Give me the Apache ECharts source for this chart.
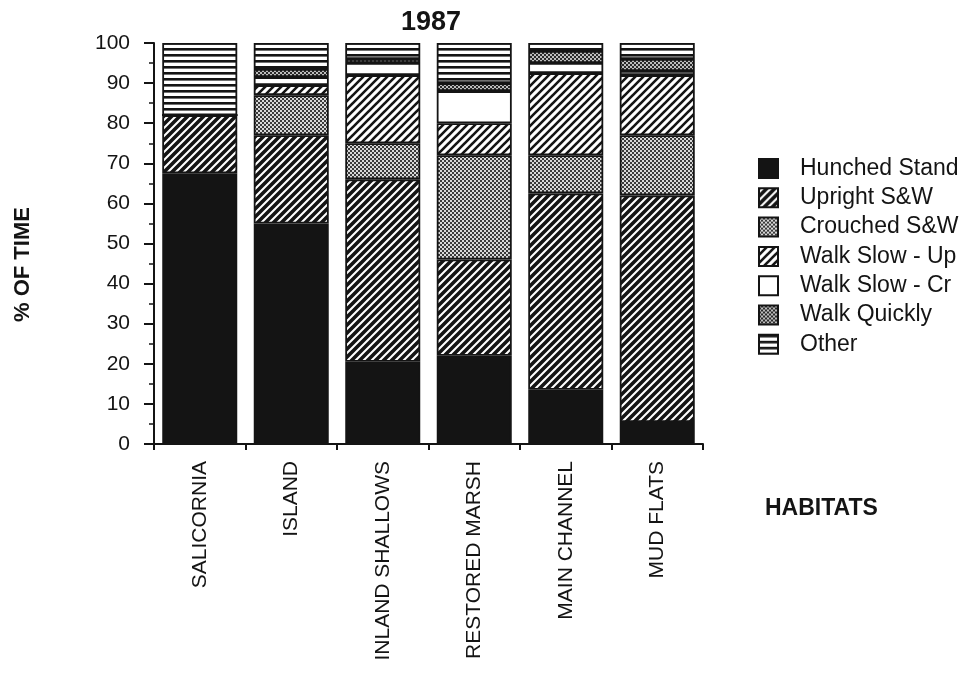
<!DOCTYPE html>
<html>
<head>
<meta charset="utf-8">
<script src="https://cdn.jsdelivr.net/npm/echarts@6/dist/echarts.min.js"></script>
<style>
html,body{margin:0;padding:0;background:#fff;}
#chart{width:969px;height:675px;}
</style>
</head>
<body>
<div id="chart"></div>
<script>
// ---- Data ----
const categories = ['SALICORNIA', 'ISLAND', 'INLAND SHALLOWS', 'RESTORED MARSH', 'MAIN CHANNEL', 'MUD FLATS'];
const seriesNames = ['Hunched Stand', 'Upright S&W', 'Crouched S&W', 'Walk Slow - Up', 'Walk Slow - Cr', 'Walk Quickly', 'Other'];
const hunchedStand = [67.5, 55, 20.5, 22, 13.5, 5.5];
const uprightSW    = [14.5, 22, 45.5, 24, 49, 56.5];
const crouchedSW   = [0, 10, 9, 26, 9.5, 15];
const walkSlowUp   = [0, 2.5, 17, 8, 20.5, 15];
const walkSlowCr   = [0, 2, 3, 8, 2.5, 1];
const walkQuickly  = [0, 2, 1, 2, 3, 3];
const other        = [18, 6.5, 4, 10, 2, 4];
const yTicks = [0, 10, 20, 30, 40, 50, 60, 70, 80, 90, 100];

// ---- Patterns ----
const INK = '#141414';
function hatch(lineW, size) {
  const c = document.createElement('canvas');
  c.width = size; c.height = size;
  const g = c.getContext('2d');
  g.fillStyle = '#fff'; g.fillRect(0, 0, size, size);
  g.strokeStyle = INK; g.lineWidth = lineW; g.lineCap = 'square';
  for (let k = -1; k <= 1; k++) {
    g.beginPath();
    g.moveTo(k * size, size);
    g.lineTo(k * size + size, 0);
    g.stroke();
  }
  return { image: c, repeat: 'repeat' };
}
function hlines(lineW, size) {
  const c = document.createElement('canvas');
  c.width = size; c.height = size;
  const g = c.getContext('2d');
  g.fillStyle = '#fff'; g.fillRect(0, 0, size, size);
  g.fillStyle = INK; g.fillRect(0, 0, size, lineW);
  return { image: c, repeat: 'repeat' };
}
function dots(dark) {
  const c = document.createElement('canvas');
  c.width = 4; c.height = 4;
  const g = c.getContext('2d');
  g.fillStyle = dark ? '#2a2a2a' : '#d8d8d8'; g.fillRect(0, 0, 4, 4);
  g.fillStyle = dark ? '#bdbdbd' : '#3a3a3a';
  g.fillRect(0, 0, 2, 2); g.fillRect(2, 2, 2, 2);
  return { image: c, repeat: 'repeat' };
}

const fills = [
  INK,
  hatch(3.6, 8),
  dots(false),
  hatch(2.6, 8),
  '#ffffff',
  dots(true),
  hlines(2.6, 6.5)
];
const values = [hunchedStand, uprightSW, crouchedSW, walkSlowUp, walkSlowCr, walkQuickly, other];

const FONT = '"Liberation Sans", Arial, Helvetica, sans-serif';

const chart = echarts.init(document.getElementById('chart'), null, { renderer: 'canvas' });
chart.setOption({
  backgroundColor: '#ffffff',
  animation: false,
  title: {
    text: '1987',
    left: 426, top: 4,
    textAlign: 'center',
    textStyle: { fontFamily: FONT, fontSize: 27, fontWeight: 'bold', color: INK }
  },
  legend: {
    orient: 'vertical',
    left: 753, top: 152,
    itemWidth: 19, itemHeight: 19, itemGap: 6.3,
    icon: 'rect',
    selectedMode: false,
    data: seriesNames,
    textStyle: { fontFamily: FONT, fontSize: 23, color: INK, padding: [0, 0, 0, 17] }
  },
  grid: { left: 154, right: 266, top: 43, bottom: 231, containLabel: false },
  xAxis: {
    type: 'category',
    data: categories,
    boundaryGap: true,
    axisLine: { lineStyle: { color: INK, width: 2 } },
    axisTick: { show: true, length: 6, lineStyle: { color: INK, width: 2 } },
    axisLabel: {
      rotate: 90, margin: 17, interval: 0,
      fontFamily: FONT, fontSize: 21, color: INK
    }
  },
  yAxis: {
    type: 'value',
    min: yTicks[0], max: yTicks[yTicks.length - 1], interval: 10,
    axisLine: { show: true, lineStyle: { color: INK, width: 2 } },
    axisTick: { show: true, length: 10, lineStyle: { color: INK, width: 2 } },
    minorTick: { show: true, splitNumber: 2, length: 5, lineStyle: { color: INK, width: 1.5 } },
    splitLine: { show: false },
    axisLabel: { margin: 24, fontFamily: FONT, fontSize: 21, color: INK }
  },
  graphic: [
    {
      type: 'text',
      x: 12, y: 322, rotation: Math.PI / 2,
      style: { text: '% OF TIME', font: 'bold 22px ' + FONT, fill: INK }
    },
    {
      type: 'text', x: 765, y: 497,
      style: { text: 'HABITATS', font: 'bold 23px ' + FONT, fill: INK }
    }
  ],
  series: seriesNames.map((name, i) => ({
    name: name,
    type: 'bar',
    stack: 'total',
    barWidth: 75,
    data: values[i],
    itemStyle: { color: fills[i], borderColor: INK, borderWidth: 1.8 },
    emphasis: { disabled: true }
  }))
});
</script>
</body>
</html>
